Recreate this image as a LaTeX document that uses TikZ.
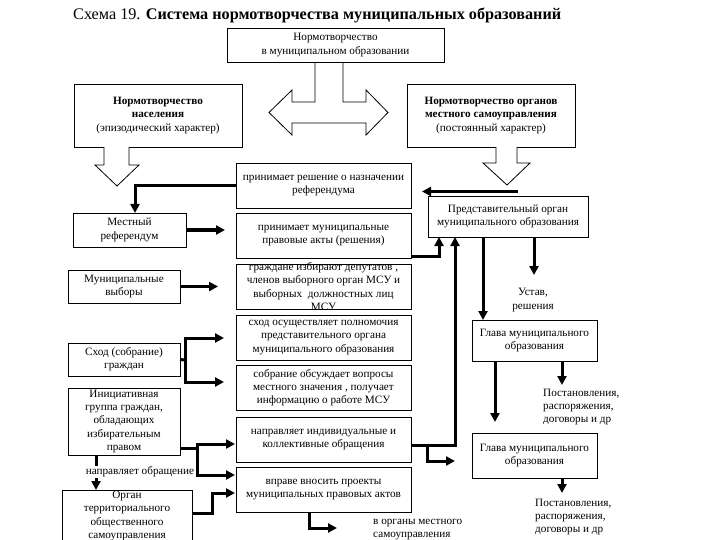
\documentclass[tikz,border=0pt]{standalone}
\usepackage{fontspec}
\setmainfont{Liberation Serif}
\usetikzlibrary{arrows.meta,calc}
\tikzset{
  bx/.style={draw, line width=0.8pt, inner sep=0pt, outer sep=0pt, fill=white},
  txt/.style={align=center, inner sep=0pt, font=\fontsize{11.2}{13.3}\selectfont},
  conn/.style={line width=3pt, -{Triangle[length=9pt,width=9pt]}},
  connl/.style={line width=3pt},
  blk/.style={draw, line width=0.8pt, fill=white, line join=miter},
}
\newcommand\bx[6]{%
  \node[bx, minimum width={#4-#2}, minimum height={#5-#3}] (#1) at ({(#2+#4)/2},{(#3+#5)/2}) {};
  \node[txt] (#1t) at (#1.center) {#6};}
\begin{document}
\begin{tikzpicture}[x=1pt,y=-1pt]
\useasboundingbox (0,0) rectangle (720,540);
\clip (0,0) rectangle (720,540);
% title
\node[anchor=west, inner sep=0pt] (title) at (73,15) {\fontsize{16.2}{19}\selectfont Схема 19. \textbf{Система нормотворчества муниципальных образований}};
% double arrow
\draw[blk] (269,112.5) -- (292,90) -- (292,102) -- (315,102) -- (315,62) -- (343,62) -- (343,102) -- (366,102) -- (366,90) -- (388,112.5) -- (366,135) -- (366,123) -- (292,123) -- (292,135) -- cycle;
% top boxes
\bx{top}{227}{28}{444}{62}{Нормотворчество\\в муниципальном образовании}
\bx{popul}{74}{84}{242}{147}{\textbf{Нормотворчество}\\\textbf{населения}\\(эпизодический характер)}
\bx{organ}{407}{84}{575}{147}{\textbf{Нормотворчество органов}\\\textbf{местного самоуправления}\\(постоянный характер)}
% block arrows down
\draw[blk] (104,147) -- (104,165) -- (95,165) -- (117,186) -- (139,165) -- (129,165) -- (129,147);
\draw[blk] (496,147) -- (496,163) -- (483,163) -- (507,185) -- (530,163) -- (517,163) -- (517,147);
% middle column
\bx{b1}{236}{163}{411}{208}{принимает решение о назначении\\референдума}
\bx{b2}{236}{213}{411}{258}{принимает муниципальные\\правовые акты (решения)}
\bx{b3}{236}{264}{411}{309}{}
\node[txt] at (b3.center) {граждане избирают депутатов ,\\членов выборного орган МСУ и\\выборных \ должностных лиц\\МСУ};
\bx{b4}{236}{315}{411}{360}{сход осуществляет полномочия\\представительного органа\\муниципального образования}
\bx{b5}{236}{365}{411}{410}{собрание обсуждает вопросы\\местного значения , получает\\информацию о работе МСУ}
\bx{b6}{236}{417}{411}{462}{направляет индивидуальные и\\коллективные обращения}
\bx{b7}{236}{467}{411}{512}{вправе вносить проекты\\муниципальных правовых актов}
% left column
\bx{ref}{73}{213}{186}{247}{Местный\\референдум}
\bx{vyb}{68}{270}{180}{303}{Муниципальные\\выборы}
\bx{shod}{68}{343}{180}{376}{Сход (собрание)\\граждан}
\bx{init}{68}{388}{180}{455}{}
\node[txt] at (init.center) {Инициативная\\группа граждан,\\обладающих\\избирательным\\правом};
\bx{tos}{62}{490}{192}{560}{}
\node[txt] at (127,516) {Орган\\территориального\\общественного\\самоуправления};
% right column
\bx{pred}{428}{196}{588}{237}{Представительный орган\\муниципального образования}
\bx{glava1}{472}{320}{597}{361}{Глава муниципального\\образования}
\bx{glava2}{472}{433}{597}{478}{Глава муниципального\\образования}
% connectors left
\draw[conn] (b1.west) -| ($(ref.north)+(5.5,0)$);
\draw[conn] (ref.east) -- ($(b2.west |- ref.east)+(-11,0)$);
\draw[conn] (vyb.east) -- ($(b3.west |- vyb.east)+(-18,0)$);
\coordinate (sj) at (185,360);
\draw[connl] (shod.east) -- (sj);
\draw[conn] (sj) |- ($(b4.west)+(-12,0.5)$);
\draw[conn] (sj) |- ($(b5.west)+(-12,-5.5)$);
\coordinate (ij) at (197,448);
\draw[connl] ($(init.south east)+(0,-7)$) -- (ij);
\draw[conn] (ij) |- ($(b6.west)+(-1,4.5)$);
\draw[conn] (ij) |- ($(b7.west)+(-1,-14.5)$);
\draw[conn] ($(init.south)+(-28,0)$) -- ($(tos.north)+(-31,0)$);
\node[txt, fill=white, inner sep=1pt] (napr) at (140,472) {направляет обращение};
\draw[conn] ($(tos.north east)+(0,23)$) -- ++(20,0) |- ($(b7.west)+(-1,3.5)$);
\draw[conn] ($(b7.south)+(-14.5,0)$) |- ($(b7.south)+(13.5,16)$);
\node[txt, align=left, anchor=west] (vorg) at (373,529.5) {в органы местного\\самоуправления};
% connectors right
\draw[conn] ($(pred.north)+(10,-4.5)$) -- ($(b1.east)+(11,6)$);
\draw[conn] ($(b2.south east)+(0,-1.5)$) -| ($(pred.south west)+(11,0)$);
\coordinate (bj) at (427,445);
\draw[conn] ($(b6.east)+(0,5.5)$) -| ($(pred.south west)+(27,0)$);
\draw[conn] (bj) |- ($(glava2.west)+(-17,5.5)$);
\draw[conn] ($(pred.south west)+(55,0)$) -- ($(glava1.north west)+(11,0)$);
\draw[conn] ($(pred.south)+(26,0)$) -- ++(0,38);
\node[txt] (ustav) at (533,300) {Устав,\\решения};
\draw[conn] ($(glava1.south west)+(23,0)$) -- ($(glava2.north west)+(23,-11)$);
\draw[conn] ($(glava1.south)+(27.5,0)$) -- ++(0,24);
\node[txt, align=left, anchor=west] (post1) at (543,407) {Постановления,\\распоряжения,\\договоры и др};
\draw[conn] ($(glava2.south)+(27.5,0)$) -- ++(0,15);
\node[txt, align=left, anchor=west] (post2) at (535,517) {Постановления,\\распоряжения,\\договоры и др};
\end{tikzpicture}
\end{document}
